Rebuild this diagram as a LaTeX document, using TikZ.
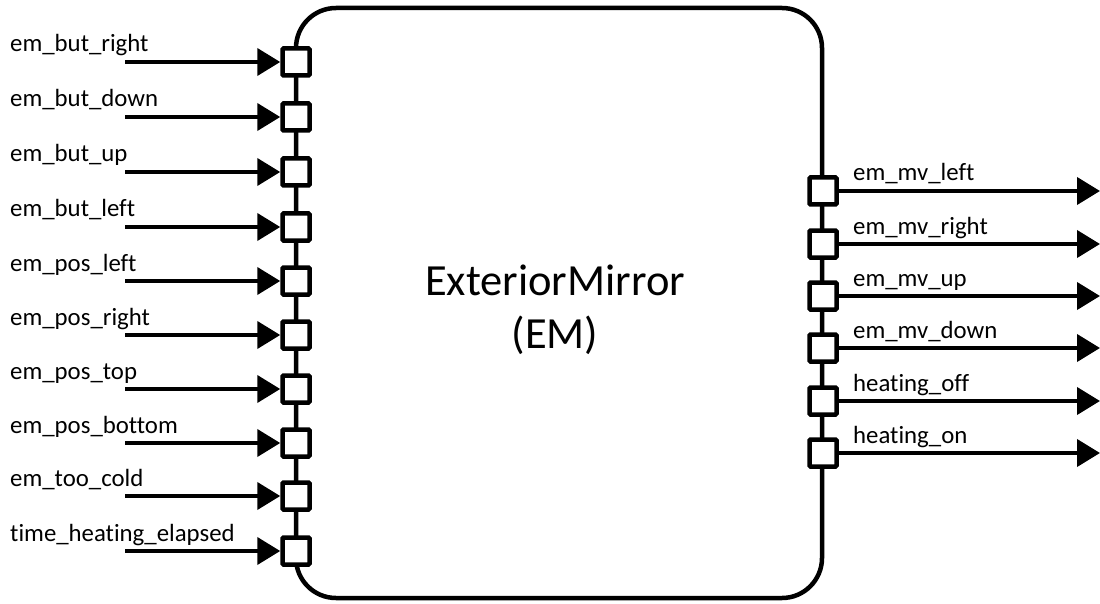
\documentclass[tikz,border=0pt]{standalone}
\usepackage{fontspec}
\setmainfont{Carlito}[Ligatures={NoCommon,TeX}]
\usetikzlibrary{arrows.meta}
\begin{document}
\begin{tikzpicture}[x=1pt,y=-1pt,
  port/.style={draw=black,line width=4.5pt,fill=white,minimum size=27pt,inner sep=0pt,rounded corners=1pt},
  sig/.style={line width=4pt,-{Triangle[length=23pt,width=27pt]}},
  lbl/.style={font=\fontsize{24.8}{28}\selectfont,inner sep=0pt},
  box/.style={draw=black,line width=4.5pt,rounded corners=40pt}]
\path[use as bounding box] (0,0) rectangle (1100,604);
\draw[box] (296,8) rectangle (822,598);
\node[font=\fontsize{44.5}{53}\selectfont,align=center] (title) at (555,310) {ExteriorMirror\\(EM)};
% left ports
\foreach \i/\y/\t in {1/62/em\_but\_right,2/117/em\_but\_down,3/172/em\_but\_up,4/227/em\_but\_left,5/281/em\_pos\_left,6/335/em\_pos\_right,7/389/em\_pos\_top,8/443/em\_pos\_bottom,9/496/em\_too\_cold,10/551/time\_heating\_elapsed}{
  \node[port] (in\i) at (296,\y) {};
  \coordinate (src\i) at (125,\y);
  \draw[sig] (src\i) -- (in\i.west);
  \node[lbl,anchor=base west] (inl\i) at (10,\y-10) {\t};
}
% right ports
\foreach \i/\y/\t in {1/191/em\_mv\_left,2/244/em\_mv\_right,3/296/em\_mv\_up,4/348/em\_mv\_down,5/401/heating\_off,6/453/heating\_on}{
  \node[port] (out\i) at (823,\y) {};
  \coordinate (dst\i) at (1100,\y);
  \draw[sig] (out\i.east) -- (dst\i);
  \node[lbl,anchor=base west] (outl\i) at (853,\y-10) {\t};
}
\end{tikzpicture}
\end{document}
